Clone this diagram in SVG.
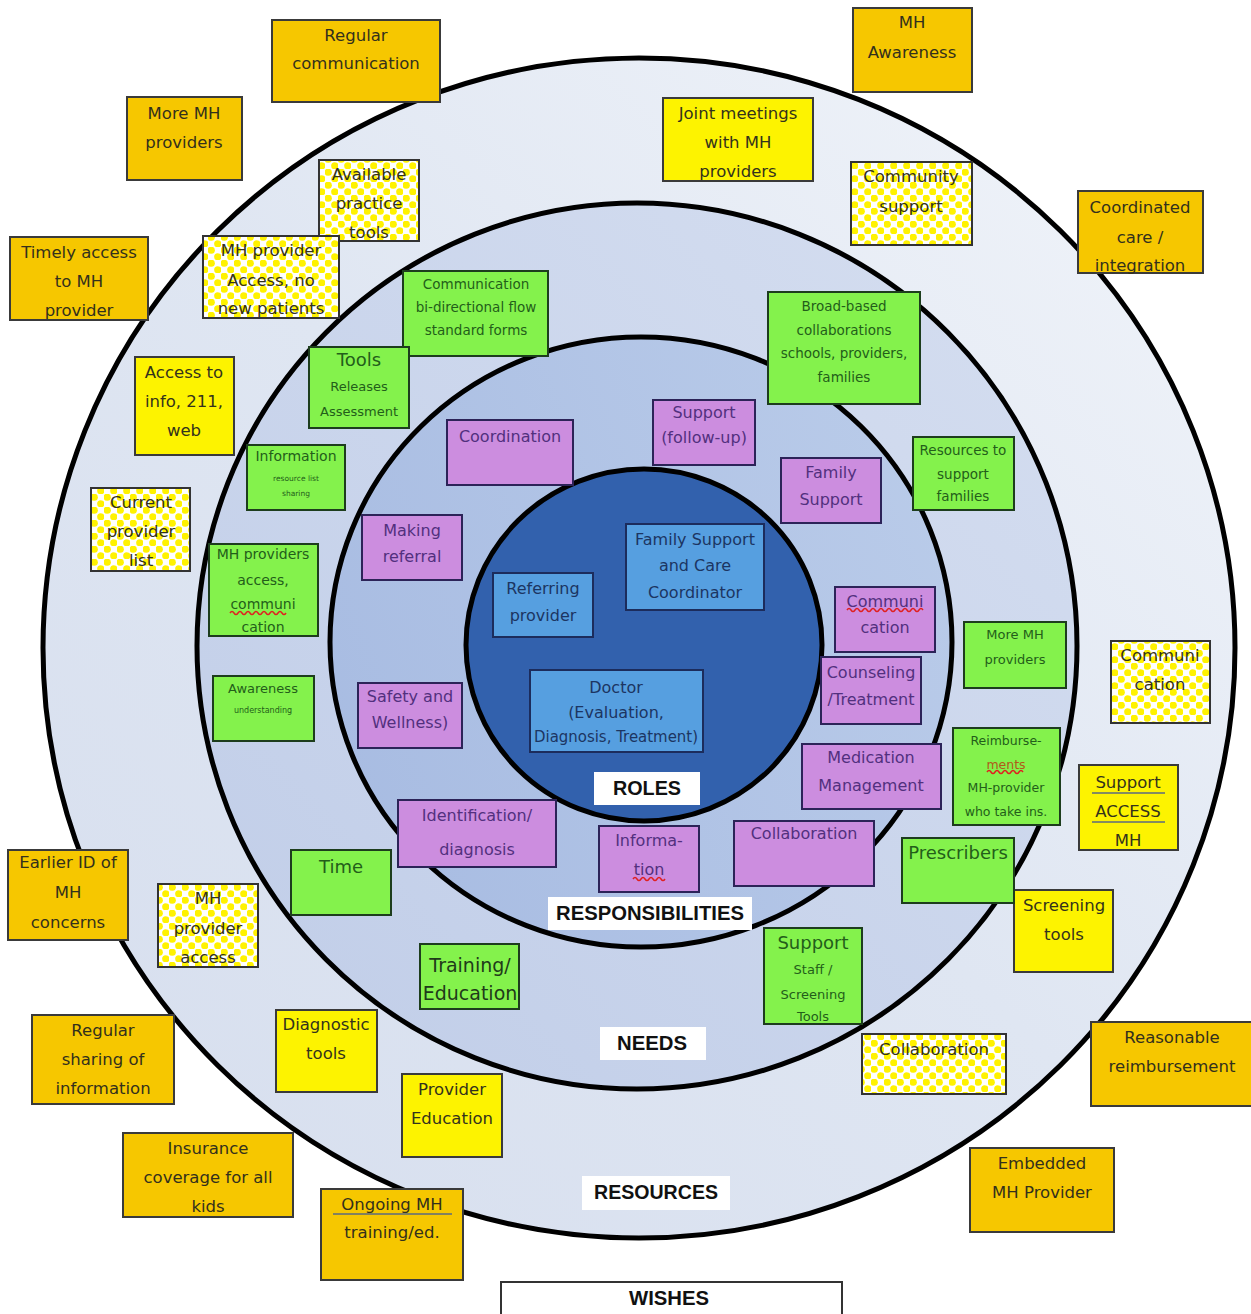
<svg xmlns="http://www.w3.org/2000/svg" width="1251" height="1314" viewBox="0 0 1251 1314">
<defs>
<linearGradient id="gOuter" x1="1" y1="0" x2="0" y2="1">
<stop offset="0" stop-color="#f2f5fa"/><stop offset="0.5" stop-color="#dfe6f2"/><stop offset="1" stop-color="#d6deee"/>
</linearGradient>
<linearGradient id="gNeeds" x1="1" y1="0" x2="0" y2="1">
<stop offset="0" stop-color="#d5def0"/><stop offset="1" stop-color="#c0cde8"/>
</linearGradient>
<linearGradient id="gResp" x1="1" y1="0.3" x2="0" y2="0.7">
<stop offset="0" stop-color="#b9cbe9"/><stop offset="1" stop-color="#a8bce2"/>
</linearGradient>
<pattern id="chk" width="13" height="13" patternUnits="userSpaceOnUse">
<rect width="13" height="13" fill="#ffffff"/>
<circle cx="3.25" cy="3.25" r="3.6" fill="#fff200"/>
<circle cx="9.75" cy="9.75" r="3.6" fill="#fff200"/>
</pattern>
<style>
.bx{stroke-width:2}
.gold{fill:#f6c700;stroke:#3a3a3a}
.yel{fill:#fdf300;stroke:#3a3a3a}
.chk{fill:url(#chk);stroke:#333}
.grn{fill:#84f24c;stroke:#1d3d1d}
.pur{fill:#cc8ddf;stroke:#2c2358}
.blu{fill:#569fe0;stroke:#1c2c5c}
text{font-family:"DejaVu Sans","Liberation Sans",sans-serif;text-anchor:middle}
.tg{fill:#33301c;font-size:16.5px}
.ty{fill:#33321c;font-size:16.5px}
.tn{fill:#235e1a}
.tp{fill:#52307e;font-size:16px}
.tb{fill:#1c3562;font-size:16px}
.lbl{fill:#111;font-family:"Liberation Sans",Arial,sans-serif;font-weight:bold;font-size:20px}
.wav{fill:none;stroke:#e02020;stroke-width:1.5}
.ul{stroke:#5a6a80;stroke-width:1.5}
</style>
</defs>
<rect width="1251" height="1314" fill="#ffffff"/>
<g id="rings" stroke="#000" stroke-width="5">
<ellipse cx="639" cy="648" rx="596" ry="590" fill="url(#gOuter)"/>
<ellipse cx="637" cy="646" rx="440" ry="443" fill="url(#gNeeds)"/>
<ellipse cx="641" cy="642" rx="311" ry="305" fill="url(#gResp)"/>
<ellipse cx="644" cy="645" rx="178" ry="176" fill="#3261ad"/>
</g>
<g id="labels">
<g id="lbl-roles"><rect x="594" y="772" width="106" height="33" fill="#fff"/><text class="lbl" x="647" y="795" textLength="68" lengthAdjust="spacingAndGlyphs">ROLES</text></g>
<g id="lbl-resp"><rect x="548" y="897" width="204" height="33" fill="#fff"/><text class="lbl" x="650" y="920" textLength="188" lengthAdjust="spacingAndGlyphs">RESPONSIBILITIES</text></g>
<g id="lbl-needs"><rect x="600" y="1027" width="106" height="33" fill="#fff"/><text class="lbl" x="652" y="1050" textLength="70" lengthAdjust="spacingAndGlyphs">NEEDS</text></g>
<g id="lbl-res"><rect x="582" y="1176" width="148" height="34" fill="#fff"/><text class="lbl" x="656" y="1199" textLength="124" lengthAdjust="spacingAndGlyphs">RESOURCES</text></g>
<g id="lbl-wishes"><rect x="501" y="1282" width="341" height="40" fill="#fff" stroke="#333" stroke-width="2"/><text class="lbl" x="669" y="1305" textLength="80" lengthAdjust="spacingAndGlyphs">WISHES</text></g>
</g>
<g id="wishes">
<g id="w1"><rect class="bx gold" x="272" y="20" width="168" height="82"/><text class="tg" x="356" y="41">Regular</text><text class="tg" x="356" y="69">communication</text></g>
<g id="w2"><rect class="bx gold" x="853" y="8" width="119" height="84"/><text class="tg" x="912" y="28">MH</text><text class="tg" x="912" y="58">Awareness</text></g>
<g id="w3"><rect class="bx gold" x="127" y="97" width="115" height="83"/><text class="tg" x="184" y="119">More MH</text><text class="tg" x="184" y="148">providers</text></g>
<g id="w4"><rect class="bx gold" x="1078" y="191" width="125" height="82"/><text class="tg" x="1140" y="213">Coordinated</text><text class="tg" x="1140" y="243">care /</text><text class="tg" x="1140" y="271">integration</text></g>
<g id="w5"><rect class="bx gold" x="10" y="237" width="138" height="83"/><text class="tg" x="79" y="258">Timely access</text><text class="tg" x="79" y="287">to MH</text><text class="tg" x="79" y="316">provider</text></g>
<g id="w6"><rect class="bx gold" x="8" y="850" width="120" height="90"/><text class="tg" x="68" y="868">Earlier ID of</text><text class="tg" x="68" y="898">MH</text><text class="tg" x="68" y="928">concerns</text></g>
<g id="w7"><rect class="bx gold" x="32" y="1015" width="142" height="89"/><text class="tg" x="103" y="1036">Regular</text><text class="tg" x="103" y="1065">sharing of</text><text class="tg" x="103" y="1094">information</text></g>
<g id="w8"><rect class="bx gold" x="123" y="1133" width="170" height="84"/><text class="tg" x="208" y="1154">Insurance</text><text class="tg" x="208" y="1183">coverage for all</text><text class="tg" x="208" y="1212">kids</text></g>
<g id="w9"><rect class="bx gold" x="321" y="1189" width="142" height="91"/><text class="tg" x="392" y="1210">Ongoing  MH</text><line class="ul" x1="333" y1="1214" x2="452" y2="1214"/><text class="tg" x="392" y="1238">training/ed.</text></g>
<g id="w10"><rect class="bx gold" x="970" y="1148" width="144" height="84"/><text class="tg" x="1042" y="1169">Embedded</text><text class="tg" x="1042" y="1198">MH Provider</text></g>
<g id="w11"><rect class="bx gold" x="1091" y="1022" width="162" height="84"/><text class="tg" x="1172" y="1043">Reasonable</text><text class="tg" x="1172" y="1072">reimbursement</text></g>
</g>
<g id="resources">
<g id="r1"><rect class="bx yel" x="663" y="98" width="150" height="83"/><text class="ty" x="738" y="119">Joint meetings</text><text class="ty" x="738" y="148">with MH</text><text class="ty" x="738" y="177">providers</text></g>
<g id="r2"><rect class="bx yel" x="135" y="357" width="99" height="98"/><text class="ty" x="184" y="378">Access to</text><text class="ty" x="184" y="407">info, 211,</text><text class="ty" x="184" y="436">web</text></g>
<g id="r3"><rect class="bx yel" x="276" y="1010" width="101" height="82"/><text class="ty" x="326" y="1030">Diagnostic</text><text class="ty" x="326" y="1059">tools</text></g>
<g id="r4"><rect class="bx yel" x="402" y="1074" width="100" height="83"/><text class="ty" x="452" y="1095">Provider</text><text class="ty" x="452" y="1124">Education</text></g>
<g id="r5"><rect class="bx yel" x="1014" y="890" width="99" height="82"/><text class="ty" x="1064" y="911">Screening</text><text class="ty" x="1064" y="940">tools</text></g>
<g id="r6"><rect class="bx yel" x="1079" y="765" width="99" height="85"/><text class="ty" x="1128" y="788">Support</text><line class="ul" x1="1092" y1="793" x2="1165" y2="793"/><text class="ty" x="1128" y="817">ACCESS</text><line class="ul" x1="1092" y1="822" x2="1165" y2="822"/><text class="ty" x="1128" y="846">MH</text></g>
<g id="r7"><rect class="bx chk" x="319" y="160" width="100" height="81"/><text class="ty" x="369" y="180">Available</text><text class="ty" x="369" y="209">practice</text><text class="ty" x="369" y="238">tools</text></g>
<g id="r8"><rect class="bx chk" x="203" y="236" width="136" height="82"/><text class="ty" x="271" y="256">MH provider</text><text class="ty" x="271" y="286">Access, no</text><text class="ty" x="271" y="314">new patients</text></g>
<g id="r9"><rect class="bx chk" x="851" y="162" width="121" height="83"/><text class="ty" x="911" y="182">Community</text><text class="ty" x="911" y="212">support</text></g>
<g id="r10"><rect class="bx chk" x="91" y="488" width="99" height="83"/><text class="ty" x="141" y="508">Current</text><text class="ty" x="141" y="537">provider</text><text class="ty" x="141" y="566">list</text></g>
<g id="r11"><rect class="bx chk" x="158" y="884" width="100" height="83"/><text class="ty" x="208" y="904">MH</text><text class="ty" x="208" y="934">provider</text><text class="ty" x="208" y="963">access</text></g>
<g id="r12"><rect class="bx chk" x="1111" y="641" width="99" height="82"/><text class="ty" x="1160" y="661">Communi</text><text class="ty" x="1160" y="690">cation</text></g>
<g id="r13"><rect class="bx chk" x="862" y="1034" width="144" height="60"/><text class="ty" x="934" y="1055">Collaboration</text></g>
</g>
<g id="needs">
<g id="n1"><rect class="bx grn" x="403" y="271" width="145" height="85"/><text class="tn" font-size="13.5" x="476" y="289">Communication</text><text class="tn" font-size="13.5" x="476" y="312">bi-directional flow</text><text class="tn" font-size="13.5" x="476" y="335">standard forms</text></g>
<g id="n2"><rect class="bx grn" x="309" y="347" width="100" height="81"/><text class="tn" font-size="18" x="359" y="366">Tools</text><text class="tn" font-size="13" x="359" y="391">Releases</text><text class="tn" font-size="13" x="359" y="416">Assessment</text></g>
<g id="n3"><rect class="bx grn" x="768" y="292" width="152" height="112"/><text class="tn" font-size="13.5" x="844" y="311">Broad-based</text><text class="tn" font-size="13.5" x="844" y="335">collaborations</text><text class="tn" font-size="13.5" x="844" y="358">schools, providers,</text><text class="tn" font-size="13.5" x="844" y="382">families</text></g>
<g id="n4"><rect class="bx grn" x="247" y="445" width="98" height="65"/><text class="tn" font-size="14" x="296" y="461">Information</text><text class="tn" font-size="7.5" x="296" y="481">resource list</text><text class="tn" font-size="7.5" x="296" y="496">sharing</text></g>
<g id="n5"><rect class="bx grn" x="913" y="437" width="101" height="73"/><text class="tn" font-size="13.5" x="963" y="455">Resources to</text><text class="tn" font-size="13.5" x="963" y="479">support</text><text class="tn" font-size="13.5" x="963" y="501">families</text></g>
<g id="n6"><rect class="bx grn" x="209" y="544" width="109" height="92"/><text class="tn" font-size="14" x="263" y="559">MH providers</text><text class="tn" font-size="14" x="263" y="585">access,</text><text class="tn" font-size="14" x="263" y="609">communi</text><path class="wav" d="M230 613 q2 -3 4 0 t4 0 t4 0 t4 0 t4 0 t4 0 t4 0 t4 0 t4 0 t4 0 t4 0 t4 0 t4 0 t4 0"/><text class="tn" font-size="14" x="263" y="632">cation</text></g>
<g id="n7"><rect class="bx grn" x="213" y="676" width="101" height="65"/><text class="tn" font-size="13" x="263" y="693">Awareness</text><text class="tn" font-size="8" x="263" y="713">understanding</text></g>
<g id="n8"><rect class="bx grn" x="964" y="622" width="102" height="66"/><text class="tn" font-size="13" x="1015" y="639">More MH</text><text class="tn" font-size="13" x="1015" y="664">providers</text></g>
<g id="n9"><rect class="bx grn" x="953" y="728" width="107" height="97"/><text class="tn" font-size="12.5" x="1006" y="745">Reimburse-</text><text font-size="12.5" fill="#b05a1a" x="1006" y="769">ments</text><path class="wav" d="M987 772 q2 -3 4 0 t4 0 t4 0 t4 0 t4 0 t4 0 t4 0 t4 0 t4 0"/><text class="tn" font-size="12.5" x="1006" y="792">MH-provider</text><text class="tn" font-size="12.5" x="1006" y="816">who take ins.</text></g>
<g id="n10"><rect class="bx grn" x="291" y="850" width="100" height="65"/><text class="tn" font-size="18" x="341" y="873">Time</text></g>
<g id="n11"><rect class="bx grn" x="902" y="838" width="112" height="65"/><text class="tn" font-size="18" x="958" y="859">Prescribers</text></g>
<g id="n12"><rect class="bx grn" x="420" y="944" width="99" height="65"/><text font-family="'Liberation Serif',serif" font-size="19" fill="#1f3a1a" x="470" y="972">Training/</text><text font-family="'Liberation Serif',serif" font-size="19" fill="#1f3a1a" x="470" y="1000">Education</text></g>
<g id="n13"><rect class="bx grn" x="764" y="928" width="98" height="96"/><text class="tn" font-size="18" x="813" y="949">Support</text><text class="tn" font-size="13" x="813" y="974">Staff /</text><text class="tn" font-size="13" x="813" y="999">Screening</text><text class="tn" font-size="13" x="813" y="1021">Tools</text></g>
</g>
<g id="responsibilities">
<g id="p1"><rect class="bx pur" x="447" y="420" width="126" height="65"/><text class="tp" x="510" y="442">Coordination</text></g>
<g id="p2"><rect class="bx pur" x="653" y="400" width="102" height="65"/><text class="tp" font-size="14.5" x="704" y="418">Support</text><text class="tp" font-size="14.5" x="704" y="443">(follow-up)</text></g>
<g id="p3"><rect class="bx pur" x="781" y="458" width="100" height="65"/><text class="tp" x="831" y="478">Family</text><text class="tp" x="831" y="505">Support</text></g>
<g id="p4"><rect class="bx pur" x="362" y="515" width="100" height="65"/><text class="tp" x="412" y="536">Making</text><text class="tp" x="412" y="562">referral</text></g>
<g id="p5"><rect class="bx pur" x="835" y="587" width="100" height="65"/><text class="tp" x="885" y="607">Communi</text><path class="wav" d="M847 610 q2 -3 4 0 t4 0 t4 0 t4 0 t4 0 t4 0 t4 0 t4 0 t4 0 t4 0 t4 0 t4 0 t4 0 t4 0 t4 0 t4 0 t4 0 t4 0 t4 0"/><text class="tp" x="885" y="633">cation</text></g>
<g id="p6"><rect class="bx pur" x="821" y="657" width="100" height="67"/><text class="tp" x="871" y="678">Counseling</text><text class="tp" x="871" y="705">/Treatment</text></g>
<g id="p7"><rect class="bx pur" x="358" y="683" width="104" height="65"/><text class="tp" x="410" y="702">Safety and</text><text class="tp" x="410" y="728">Wellness)</text></g>
<g id="p8"><rect class="bx pur" x="802" y="744" width="139" height="65"/><text class="tp" font-size="16.5" x="871" y="763">Medication</text><text class="tp" font-size="16.5" x="871" y="791">Management</text></g>
<g id="p9"><rect class="bx pur" x="398" y="800" width="158" height="67"/><text class="tp" font-size="20" x="477" y="821">Identification/</text><text class="tp" font-size="20" x="477" y="855">diagnosis</text></g>
<g id="p10"><rect class="bx pur" x="599" y="826" width="100" height="66"/><text class="tp" x="649" y="846">Informa-</text><text class="tp" x="649" y="875">tion</text><path class="wav" d="M633 879 q2 -3 4 0 t4 0 t4 0 t4 0 t4 0 t4 0 t4 0 t4 0"/></g>
<g id="p11"><rect class="bx pur" x="734" y="821" width="140" height="65"/><text class="tp" x="804" y="839">Collaboration</text></g>
</g>
<g id="roles">
<g id="b1"><rect class="bx blu" x="493" y="573" width="100" height="64"/><text class="tb" x="543" y="594">Referring</text><text class="tb" x="543" y="621">provider</text></g>
<g id="b2"><rect class="bx blu" x="626" y="524" width="138" height="86"/><text class="tb" x="695" y="545">Family Support</text><text class="tb" x="695" y="571">and Care</text><text class="tb" x="695" y="598">Coordinator</text></g>
<g id="b3"><rect class="bx blu" x="530" y="670" width="173" height="82"/><text class="tb" font-size="17" x="616" y="693">Doctor</text><text class="tb" font-size="13" x="616" y="718">(Evaluation,</text><text class="tb" font-size="12" x="616" y="742" textLength="164" lengthAdjust="spacingAndGlyphs">Diagnosis, Treatment)</text></g>
</g>
</svg>
